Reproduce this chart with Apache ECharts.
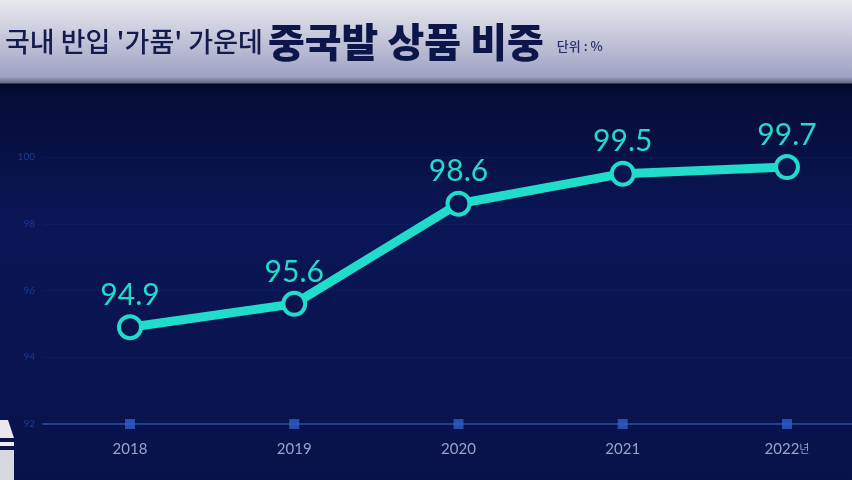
<!DOCTYPE html>
<html><head><meta charset="utf-8">
<script src="https://cdn.jsdelivr.net/npm/echarts@6/dist/echarts.min.js"></script>
<style>html,body{margin:0;padding:0;background:#0a1550;}#c{width:852px;height:480px;}</style>
</head><body><div id="c"></div>
<script>
const years = ['2018','2019','2020','2021','2022'];
const shares = [94.9, 95.6, 98.6, 99.5, 99.7];
const yTicks = { min: 92, max: 100, interval: 2 };
const titleLight = "국내 반입 '가품' 가운데";
const titleBold = '중국발 상품 비중';
const unitText = '단위 : %';
const lastSuffix = '년';

const chart = echarts.init(document.getElementById('c'));
const teal = '#22dccb';
chart.setOption({
  animation: false,
  backgroundColor: {
    type: 'linear', x: 0, y: 0, x2: 0, y2: 1,
    colorStops: [
      {offset: 0, color: '#e9e9ef'},
      {offset: 0.16, color: '#9fa1c4'},
      {offset: 0.172, color: '#6a6c88'},
      {offset: 0.176, color: '#040826'},
      {offset: 0.19, color: '#050c35'},
      {offset: 0.45, color: '#0a1656'},
      {offset: 1, color: '#08124a'}
    ]
  },
  title: {
    left: 0, top: 17,
    text: '{a|' + titleLight + '} {b|' + titleBold + '} {c|' + unitText + '}',
    textStyle: {
      rich: {
        a: {fontFamily: 'Noto Sans CJK KR', fontSize: 27, fontWeight: 500, color: '#141c4e', letterSpacing: -2},
        b: {fontFamily: 'Noto Sans CJK KR', fontSize: 40, fontWeight: 900, color: '#0c1648', letterSpacing: -1},
        c: {fontFamily: 'Noto Sans CJK KR', fontSize: 13, fontWeight: 500, color: '#28306a', padding: [8, 0, 0, 8]}
      }
    }
  },
  grid: [
    {left: 43, right: 0, top: 157, bottom: 56},
    {left: 130, right: 65, top: 157, bottom: 56}
  ],
  xAxis: [
    {gridIndex: 0, type: 'value', min: 0, max: 1, show: true,
      axisLine: {show: true, lineStyle: {color: '#1f3f8f', width: 2}},
      axisTick: {show: false}, axisLabel: {show: false}, splitLine: {show: false}},
    {gridIndex: 1, type: 'category', data: years, boundaryGap: false,
      axisLine: {show: false}, axisTick: {show: false}, splitLine: {show: false},
      axisLabel: {
        margin: 18, color: '#97a3cc', fontSize: 15, fontFamily: 'Lato',
        formatter: (v, i) => i === years.length - 1 ? v + '{s|' + lastSuffix + '}' : v,
        rich: {s: {fontSize: 11, color: '#97a3cc', fontFamily: 'Noto Sans CJK KR', padding: [0, 0, 2, 0]}}
      }}
  ],
  yAxis: [
    {gridIndex: 0, type: 'value', min: yTicks.min, max: yTicks.max, interval: yTicks.interval,
      axisLine: {show: false}, axisTick: {show: false},
      axisLabel: {margin: 8, color: '#1d3a94', fontSize: 10, fontFamily: 'Lato'},
      splitLine: {show: true, lineStyle: {color: 'rgba(40,70,160,0.15)', width: 1}}},
    {gridIndex: 1, type: 'value', min: yTicks.min, max: yTicks.max, interval: yTicks.interval,
      show: false}
  ],
  series: [
    {
      type: 'scatter', xAxisIndex: 1, yAxisIndex: 1,
      symbol: 'rect', symbolSize: 10, z: 3,
      itemStyle: {color: '#2f5fc8'},
      data: years.map(y => [y, yTicks.min]),
      silent: true
    },
    {
      type: 'line', xAxisIndex: 1, yAxisIndex: 1, data: shares, z: 5,
      lineStyle: {color: teal, width: 9},
      symbol: 'circle', symbolSize: 22, showAllSymbol: true,
      itemStyle: {color: '#0a1550', borderColor: teal, borderWidth: 4},
      label: {show: true, position: 'top', distance: 4, color: teal,
        fontSize: 30, fontFamily: 'Lato', formatter: p => p.value.toFixed(1)}
    }
  ],
  graphic: [
    {type: 'polygon', shape: {points: [[0, 420], [8, 420], [14, 438], [0, 438]]}, style: {fill: '#e8e8ee'}},
    {type: 'rect', shape: {x: 0, y: 442, width: 14, height: 4}, style: {fill: '#e8e8ee'}},
    {type: 'rect', shape: {x: 0, y: 450, width: 14, height: 30}, style: {fill: '#d8d8e0'}}
  ]
});
</script></body></html>
